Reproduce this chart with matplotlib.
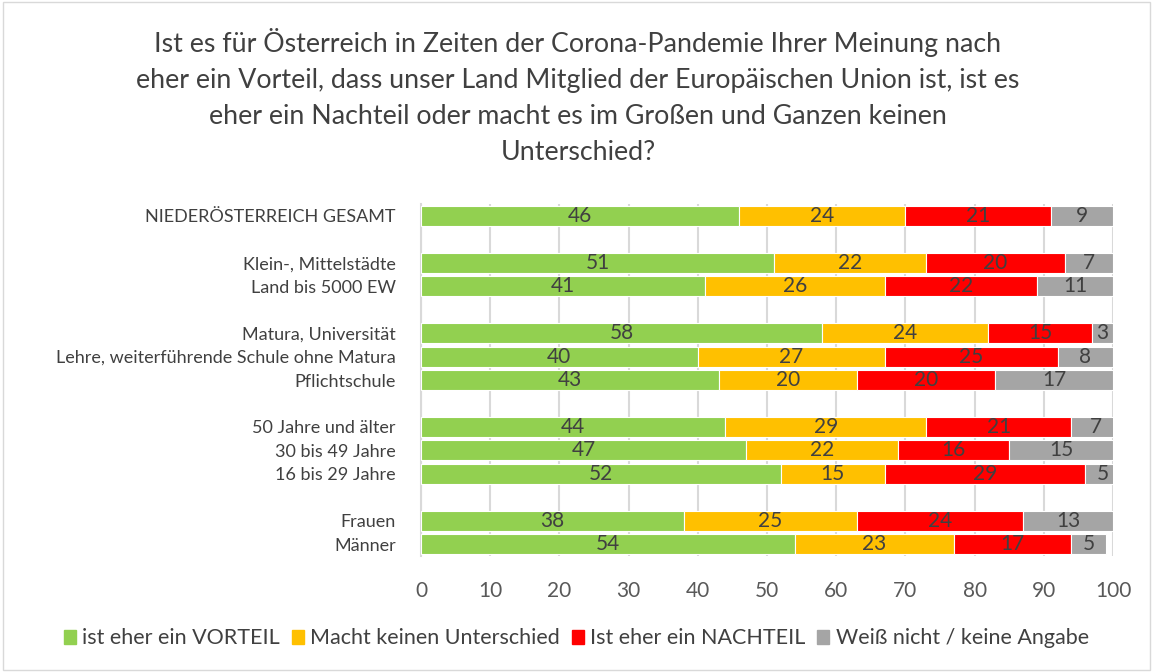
import matplotlib
matplotlib.use("Agg")
import matplotlib.pyplot as plt
from matplotlib.patches import Rectangle

plt.rcParams['font.family'] = ['Lato', 'DejaVu Sans']

categories = [
    "NIEDERÖSTERREICH GESAMT", "",
    "Klein-, Mittelstädte", "Land bis 5000 EW", "",
    "Matura, Universität", "Lehre, weiterführende Schule ohne Matura", "Pflichtschule", "",
    "50 Jahre und älter", "30 bis 49 Jahre", "16 bis 29 Jahre", "",
    "Frauen", "Männer",
]
vorteil = [46, None, 51, 41, None, 58, 40, 43, None, 44, 47, 52, None, 38, 54]
kein_unterschied = [24, None, 22, 26, None, 24, 27, 20, None, 29, 22, 15, None, 25, 23]
nachteil = [21, None, 20, 22, None, 15, 25, 20, None, 21, 16, 29, None, 24, 17]
weiss_nicht = [9, None, 7, 11, None, 3, 8, 17, None, 7, 15, 5, None, 13, 5]

series_names = ["ist eher ein VORTEIL", "Macht keinen Unterschied",
                "Ist eher ein NACHTEIL", "Weiß nicht / keine Angabe"]
series = [vorteil, kein_unterschied, nachteil, weiss_nicht]
colors = ["#92d050", "#ffc000", "#ff0000", "#a5a5a5"]

title = ("Ist es für Österreich in Zeiten der Corona-Pandemie Ihrer Meinung nach\n"
         "eher ein Vorteil, dass unser Land Mitglied der Europäischen Union ist, ist es\n"
         "eher ein Nachteil oder macht es im Großen und Ganzen keinen\n"
         "Unterschied?")

fig = plt.figure(figsize=(11.53, 6.72), dpi=100)
ax = fig.add_axes([0.3651, 0.1726, 0.6002, 0.5238])

n = len(categories)
ypos = list(range(n))
left = [0.0] * n
handles = []
for name, vals, col in zip(series_names, series, colors):
    for i, v in enumerate(vals):
        if v is None:
            continue
        ax.barh(i, v, left=left[i], height=0.85, color=col, edgecolor="white",
                linewidth=0.8, zorder=3)
        ax.text(left[i] + v / 2, i, str(v), ha="center", va="center",
                fontsize=15, color="#404040", zorder=4)
        left[i] += v
    handles.append(Rectangle((0, 0), 1, 1, color=col))

ax.set_ylim(n - 0.5, -0.5)
ax.set_xlim(0, 100)
ax.set_xticks(range(0, 101, 10))
ax.set_yticks(ypos)
ax.set_yticklabels(categories, fontsize=13, color="#404040")
ax.tick_params(axis="x", labelsize=15, labelcolor="#595959", length=0, pad=18)
ax.tick_params(axis="y", length=0, pad=18)
ax.grid(axis="x", color="#d9d9d9", linewidth=1.5, zorder=0)
for s in ["top", "right", "bottom"]:
    ax.spines[s].set_visible(False)
ax.spines["left"].set_color("#d9d9d9")
ax.spines["left"].set_linewidth(1.5)

fig.text(0.5013, 0.958, title, ha="center", va="top", fontsize=19.3,
         color="#404040", linespacing=1.55)

fig.legend(handles, series_names, loc="center", bbox_to_anchor=(0.5, 0.05),
           ncol=4, frameon=False, fontsize=15.5, handlelength=0.55,
           handleheight=0.65, handletextpad=0.3, columnspacing=0.55,
           labelcolor="#404040")

fig.patches.append(Rectangle((0.003, 0.003), 0.994, 0.994, transform=fig.transFigure,
                             fill=False, edgecolor="#d9d9d9", linewidth=1))

fig.savefig("out.png", dpi=100)
